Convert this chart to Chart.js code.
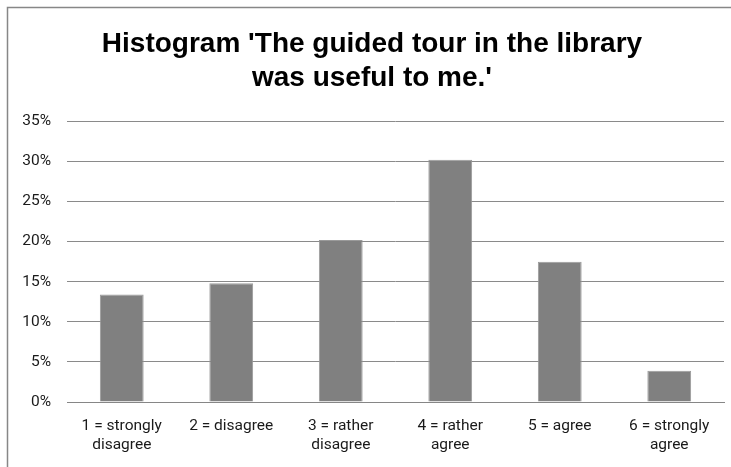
<!DOCTYPE html>
<html>
<head>
<meta charset="utf-8">
<script src="https://cdn.jsdelivr.net/npm/chart.js@4"></script>
<style>
  html, body { margin: 0; padding: 0; background: #fff; overflow: hidden; }
  #wrap { position: relative; width: 731px; height: 467px; }
</style>
</head>
<body>
<div id="wrap"><canvas id="histChart"></canvas></div>
<script>
const categories = [
  ["1 = strongly", "disagree"],
  "2 = disagree",
  ["3 = rather", "disagree"],
  ["4 = rather", "agree"],
  "5 = agree",
  ["6 = strongly", "agree"],
];
const shares = [13.4, 14.8, 20.2, 30.2, 17.5, 3.9];
const yTicks = [0, 5, 10, 15, 20, 25, 30, 35];
const titleLines = ["Histogram 'The guided tour in the library", "was useful to me.'"];

const titleFont = "'Liberation Sans', Arial, sans-serif";
const tickFont = "Roboto, 'Liberation Sans', sans-serif";

// outer frame of the chart object, like the spreadsheet export
const framePlugin = {
  id: "frame",
  beforeDraw(chart) {
    const c = chart.ctx;
    c.save();
    c.fillStyle = "#fff";
    c.fillRect(0, 0, chart.width, chart.height);
    c.strokeStyle = "#878787";
    c.lineWidth = 1.5;
    c.strokeRect(7.5, 7.5, chart.width + 20, chart.height + 20);
    c.restore();
  },
};

const ctx = document.querySelector("#histChart").getContext("2d");
new Chart(ctx, {
  type: "bar",
  data: {
    labels: categories,
    datasets: [
      {
        data: shares,
        backgroundColor: "#808080",
        borderColor: "#9a9a9a",
        borderWidth: 1,
        categoryPercentage: 1,
        barPercentage: 0.4,
      },
    ],
  },
  options: {
    responsive: true,
    maintainAspectRatio: false,
    animation: false,
    layout: { padding: { left: 20, right: 7, top: 0, bottom: 0 } },
    plugins: {
      legend: { display: false },
      tooltip: { enabled: false },
      title: {
        display: true,
        text: titleLines,
        color: "#000",
        font: { family: titleFont, size: 28, weight: "bold", lineHeight: 1.22 },
        padding: { top: 27, bottom: 26 },
      },
    },
    scales: {
      x: {
        grid: { display: false, drawTicks: false },
        border: { display: true, color: "#868686", width: 1 },
        ticks: {
          color: "#1a1a1a",
          font: { family: tickFont, size: 15.5, lineHeight: 1.2 },
          padding: 15,
          maxRotation: 0,
          autoSkip: false,
        },
        afterFit: (s) => { s.height = 65; },
      },
      y: {
        min: 0,
        max: 35,
        afterBuildTicks: (s) => { s.ticks = yTicks.map((v) => ({ value: v })); },
        grid: { color: "#8a8a8a", lineWidth: 1, drawTicks: false },
        border: { display: false },
        ticks: {
          color: "#1a1a1a",
          font: { family: tickFont, size: 15.5 },
          padding: 16,
          callback: (v) => v + "%",
        },
        afterFit: (s) => { s.width = 47; },
      },
    },
  },
  plugins: [framePlugin],
});
</script>
</body>
</html>
